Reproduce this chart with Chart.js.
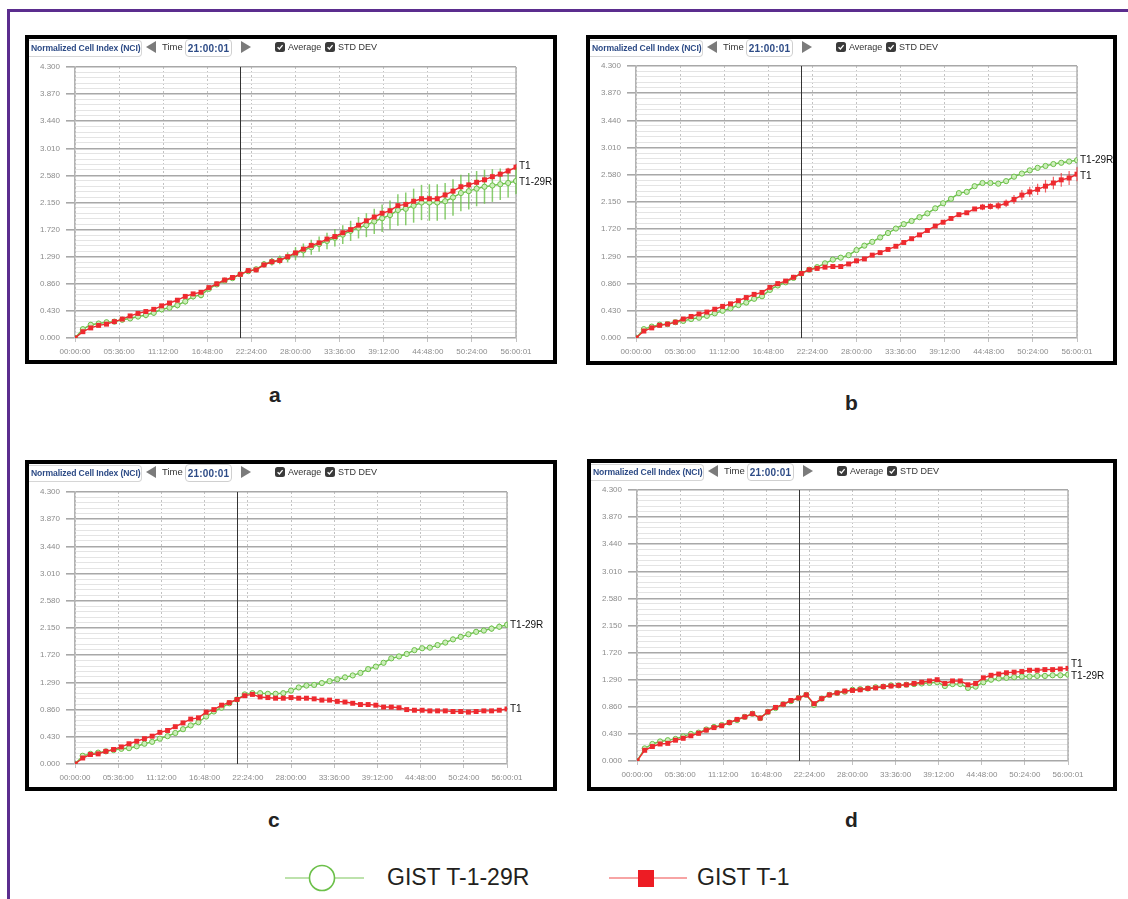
<!DOCTYPE html>
<html lang="en">
<head>
<meta charset="UTF-8">
<title>NCI - GIST T-1 vs GIST T-1-29R</title>
<script src="https://cdn.jsdelivr.net/npm/chart.js"></script>
<style>
    body {
        margin: 0;
        width: 1128px;
        height: 899px;
        position: relative;
        overflow: hidden;
        background: #fff;
        font-family: Arial, "Liberation Sans", sans-serif;
    }
    .frame-top { position: absolute; left: 7px; top: 9px; right: 0; height: 3px; background: #5b2d8e; }
    .frame-left { position: absolute; left: 7px; top: 9px; width: 3px; bottom: 0; background: #5b2d8e; }
    .panel { position: absolute; border: 4px solid #000; background: #fff; box-sizing: border-box; }
    .panel canvas { position: absolute; left: 0; top: 0; }
    .hdr > div { position: absolute; white-space: nowrap; }
    .nci {
        left: 0; top: 1px; width: 110px; height: 15px;
        border: 1px solid #d6d6d6; border-left: none; border-radius: 0 4px 4px 0;
        font-size: 8.6px; font-weight: bold; color: #2d4b86; line-height: 15px;
        padding-left: 2px; letter-spacing: -0.1px; background: #fff;
    }
    .tri-l { left: 117px; top: 2px; width: 0; height: 0;
        border-right: 10px solid #7b7b7b; border-top: 6px solid transparent; border-bottom: 6px solid transparent; }
    .tri-r { left: 212px; top: 2px; width: 0; height: 0;
        border-left: 10px solid #7b7b7b; border-top: 6px solid transparent; border-bottom: 6px solid transparent; }
    .time { left: 133px; top: 2px; font-size: 9.5px; color: #333; }
    .tbox { left: 156px; top: 0; width: 45px; height: 16px; border: 1px solid #d0d0d0; border-radius: 4px;
        font-size: 10px; font-weight: bold; color: #2d4b86; text-align: center; line-height: 17px; letter-spacing: 0.2px; }
    .cb { top: 3px; width: 10px; height: 10px; }
    .cb svg { display: block; }
    .lbl { top: 2px; font-size: 9px; color: #333; line-height: 12px; }
    .letter { position: absolute; font-size: 21px; font-weight: bold; color: #222; }
    .legend-text { position: absolute; font-size: 23px; color: #231f20; }
</style>
</head>
<body>
<div class="frame-top"></div>
<div class="frame-left"></div>

<div class="letter" style="left:269px;top:383px">a</div>
<div class="letter" style="left:845px;top:391px">b</div>
<div class="letter" style="left:268px;top:808px">c</div>
<div class="letter" style="left:845px;top:808px">d</div>

<svg style="position:absolute;left:0;top:850px" width="1128" height="49">
    <line x1="285" y1="28" x2="364" y2="28" stroke="#7cc65a" stroke-width="1.2"/>
    <circle cx="322" cy="28" r="12.5" fill="#fff" stroke="#6cc04a" stroke-width="1.6"/>
    <line x1="609" y1="28" x2="687" y2="28" stroke="#ef4a4a" stroke-width="1.2"/>
    <rect x="638" y="20" width="16" height="17" fill="#ed1c24"/>
</svg>
<div class="legend-text" style="left:387px;top:864px">GIST T-1-29R</div>
<div class="legend-text" style="left:697px;top:864px">GIST T-1</div>

<script>
// time axis: one reading per hour, 0 h .. 56 h
const hours = [0,1,2,3,4,5,6,7,8,9,10,11,12,13,14,15,16,17,18,19,20,21,22,23,24,25,26,27,28,
    29,30,31,32,33,34,35,36,37,38,39,40,41,42,43,44,45,46,47,48,49,50,51,52,53,54,55,56];
const xTickValues = [0, 5.6, 11.2, 16.8, 22.4, 28, 33.6, 39.2, 44.8, 50.4, 56];
const xTickLabels = ['00:00:00','05:36:00','11:12:00','16:48:00','22:24:00','28:00:00',
    '33:36:00','39:12:00','44:48:00','50:24:00','56:00:01'];
const yTickValues = [0, 0.43, 0.86, 1.29, 1.72, 2.15, 2.58, 3.01, 3.44, 3.87, 4.3];
const yTickLabels = ['0.000','0.430','0.860','1.290','1.720','2.150','2.580','3.010','3.440','3.870','4.300'];
const markerHour = 21;
const seriesNames = ['T1', 'T1-29R'];

// panel a
const t1A = [0,0.10,0.16,0.20,0.22,0.26,0.30,0.35,0.39,0.42,0.455,0.51,0.555,0.60,0.66,0.70,0.725,0.80,0.86,0.92,
    0.96,1.01,1.07,1.08,1.16,1.21,1.23,1.29,1.35,1.41,1.47,1.51,1.57,1.61,1.67,1.72,1.79,1.86,1.92,1.98,
    2.02,2.10,2.12,2.17,2.21,2.21,2.21,2.27,2.33,2.40,2.43,2.47,2.51,2.56,2.60,2.65,2.71];
const r29A = [0,0.14,0.21,0.23,0.25,0.26,0.29,0.31,0.34,0.365,0.40,0.455,0.48,0.52,0.58,0.66,0.68,0.78,0.85,0.91,
    0.95,1.01,1.06,1.09,1.17,1.21,1.24,1.28,1.34,1.39,1.44,1.49,1.54,1.59,1.64,1.70,1.75,1.79,1.85,1.90,
    1.95,2.03,2.05,2.10,2.15,2.15,2.15,2.17,2.23,2.30,2.33,2.37,2.40,2.42,2.44,2.46,2.49];
const t1SdA = [0,0.01,0.01,0.01,0.01,0.01,0.01,0.01,0.01,0.01,0.01,0.01,0.01,0.01,0.01,0.01,0.01,0.01,0.01,0.01,
    0.01,0.01,0.01,0.01,0.01,0.01,0.01,0.01,0.02,0.02,0.03,0.03,0.03,0.03,0.03,0.03,0.03,0.03,0.03,0.03,
    0.04,0.04,0.04,0.04,0.04,0.05,0.05,0.05,0.05,0.05,0.05,0.05,0.05,0.05,0.05,0.05,0.05];
const r29SdA = [0,0.04,0.04,0.04,0.04,0.04,0.04,0.04,0.04,0.05,0.05,0.05,0.05,0.05,0.05,0.05,0.05,0.04,0.04,0.03,
    0.03,0.03,0.03,0.04,0.05,0.06,0.07,0.08,0.10,0.11,0.12,0.12,0.13,0.14,0.15,0.16,0.17,0.19,0.20,0.22,
    0.23,0.25,0.26,0.27,0.28,0.29,0.29,0.29,0.29,0.29,0.29,0.28,0.27,0.26,0.25,0.23,0.21];

// panel b
const t1B = [0,0.11,0.16,0.20,0.22,0.25,0.30,0.34,0.38,0.41,0.455,0.50,0.54,0.59,0.64,0.69,0.72,0.80,0.86,0.90,
    0.96,1.02,1.08,1.10,1.12,1.13,1.13,1.17,1.22,1.25,1.31,1.35,1.40,1.45,1.51,1.57,1.63,1.70,1.77,1.83,
    1.89,1.95,1.98,2.04,2.07,2.08,2.09,2.13,2.19,2.26,2.31,2.35,2.40,2.45,2.50,2.53,2.59];
const r29B = [0,0.14,0.18,0.21,0.22,0.25,0.27,0.30,0.32,0.35,0.39,0.43,0.47,0.52,0.56,0.62,0.66,0.76,0.83,0.88,
    0.95,1.02,1.08,1.12,1.18,1.24,1.27,1.31,1.39,1.46,1.52,1.59,1.66,1.73,1.80,1.85,1.91,1.97,2.05,2.13,
    2.20,2.29,2.31,2.40,2.45,2.45,2.44,2.48,2.55,2.60,2.65,2.69,2.72,2.75,2.77,2.79,2.81];
const t1SdB = [0,0.01,0.01,0.01,0.01,0.01,0.01,0.01,0.01,0.01,0.01,0.01,0.01,0.01,0.01,0.01,0.01,0.01,0.01,0.01,
    0.01,0.01,0.01,0.01,0.01,0.01,0.01,0.01,0.01,0.01,0.01,0.01,0.01,0.01,0.01,0.01,0.01,0.02,0.02,0.02,
    0.02,0.03,0.03,0.03,0.05,0.05,0.06,0.06,0.07,0.08,0.08,0.09,0.10,0.10,0.11,0.11,0.11];
const r29SdB = [0,0.01,0.01,0.01,0.01,0.01,0.01,0.01,0.01,0.01,0.01,0.01,0.01,0.01,0.01,0.01,0.01,0.01,0.01,0.01,
    0.01,0.01,0.01,0.01,0.01,0.01,0.01,0.01,0.01,0.01,0.02,0.02,0.02,0.02,0.02,0.02,0.02,0.02,0.02,0.02,
    0.02,0.02,0.02,0.02,0.02,0.02,0.02,0.02,0.02,0.02,0.02,0.02,0.02,0.02,0.02,0.02,0.02];

// panel c
const t1C = [0,0.095,0.15,0.16,0.20,0.23,0.27,0.32,0.36,0.40,0.44,0.50,0.53,0.59,0.65,0.71,0.73,0.82,0.86,0.93,
    0.97,1.02,1.08,1.10,1.06,1.05,1.04,1.04,1.05,1.04,1.04,1.03,1.01,1.01,0.99,0.98,0.96,0.94,0.94,0.93,
    0.90,0.90,0.89,0.86,0.85,0.85,0.84,0.84,0.84,0.83,0.83,0.82,0.83,0.84,0.84,0.85,0.87];
const r29C = [0,0.13,0.16,0.18,0.20,0.22,0.24,0.25,0.28,0.32,0.35,0.40,0.44,0.49,0.55,0.61,0.66,0.75,0.83,0.89,
    0.96,1.02,1.10,1.12,1.12,1.11,1.11,1.12,1.16,1.21,1.24,1.25,1.28,1.31,1.34,1.37,1.40,1.44,1.50,1.54,
    1.60,1.67,1.70,1.74,1.80,1.83,1.84,1.88,1.92,1.97,2.01,2.05,2.09,2.11,2.14,2.17,2.20];
const t1SdC = [0,0.01,0.01,0.01,0.01,0.01,0.01,0.01,0.01,0.01,0.01,0.01,0.01,0.01,0.01,0.01,0.01,0.01,0.01,0.01,
    0.01,0.01,0.01,0.01,0.01,0.01,0.01,0.01,0.01,0.01,0.01,0.01,0.01,0.01,0.01,0.01,0.01,0.01,0.01,0.01,
    0.01,0.01,0.01,0.01,0.01,0.01,0.01,0.01,0.01,0.01,0.01,0.01,0.01,0.01,0.01,0.01,0.01];
const r29SdC = [0,0.02,0.02,0.02,0.02,0.02,0.02,0.02,0.02,0.02,0.02,0.02,0.02,0.02,0.02,0.02,0.02,0.02,0.02,0.02,
    0.02,0.02,0.02,0.02,0.02,0.02,0.02,0.02,0.02,0.02,0.02,0.02,0.02,0.02,0.02,0.02,0.03,0.03,0.03,0.03,
    0.03,0.03,0.03,0.03,0.03,0.03,0.04,0.04,0.04,0.04,0.04,0.04,0.04,0.04,0.05,0.05,0.05];

// panel d
const t1D = [0,0.17,0.23,0.27,0.28,0.33,0.36,0.40,0.44,0.49,0.53,0.56,0.61,0.66,0.70,0.75,0.68,0.78,0.85,0.90,
    0.96,1.00,1.05,0.91,0.99,1.05,1.08,1.11,1.12,1.13,1.15,1.16,1.18,1.19,1.20,1.21,1.23,1.25,1.27,1.29,
    1.23,1.27,1.27,1.21,1.23,1.32,1.36,1.38,1.40,1.41,1.42,1.44,1.44,1.45,1.45,1.46,1.47];
const r29D = [0,0.20,0.27,0.31,0.33,0.35,0.39,0.43,0.45,0.50,0.54,0.57,0.61,0.65,0.70,0.75,0.68,0.78,0.84,0.90,
    0.95,1.00,1.05,0.89,0.99,1.05,1.08,1.10,1.13,1.14,1.15,1.17,1.18,1.20,1.20,1.21,1.22,1.23,1.24,1.25,
    1.19,1.22,1.22,1.16,1.18,1.25,1.29,1.31,1.32,1.33,1.34,1.34,1.35,1.35,1.36,1.36,1.37];
const t1SdD = [0,0.01,0.01,0.01,0.01,0.01,0.01,0.01,0.01,0.01,0.01,0.01,0.01,0.01,0.01,0.01,0.01,0.01,0.01,0.01,
    0.01,0.01,0.01,0.01,0.01,0.01,0.01,0.01,0.01,0.01,0.01,0.01,0.01,0.01,0.01,0.01,0.01,0.01,0.01,0.01,
    0.01,0.01,0.01,0.01,0.01,0.01,0.01,0.01,0.01,0.01,0.01,0.01,0.01,0.01,0.01,0.01,0.01];
const r29SdD = [0,0.02,0.02,0.02,0.02,0.02,0.02,0.02,0.02,0.02,0.02,0.02,0.02,0.02,0.02,0.02,0.02,0.02,0.02,0.02,
    0.02,0.02,0.02,0.02,0.02,0.02,0.02,0.02,0.02,0.02,0.02,0.02,0.02,0.02,0.02,0.02,0.03,0.03,0.03,0.04,
    0.04,0.04,0.04,0.04,0.04,0.04,0.04,0.04,0.04,0.04,0.04,0.04,0.04,0.04,0.04,0.04,0.04];

const RED = '#ee2a2f', GREEN = '#6cc04a';

// layout of the four screenshots on the page (box = outer black frame)
const panels = [
    {box: [25, 35, 532, 329], pad: {top: 28, right: 37}, xh: 22, t1: t1A, r29: r29A, t1Sd: t1SdA, r29Sd: r29SdA, dy: [-1, 1]},
    {box: [586, 35, 531, 330], pad: {top: 27, right: 36}, xh: 23, t1: t1B, r29: r29B, t1Sd: t1SdB, r29Sd: r29SdB, dy: [2, 0]},
    {box: [25, 460, 532, 331], pad: {top: 28, right: 46}, xh: 23, t1: t1C, r29: r29C, t1Sd: t1SdC, r29Sd: r29SdC, dy: [0, 0]},
    {box: [587, 459, 530, 332], pad: {top: 27, right: 45}, xh: 26, t1: t1D, r29: r29D, t1Sd: t1SdD, r29Sd: r29SdD, dy: [-4, 2]}
];

const checkSvg = '<svg width="10" height="10"><rect x="0" y="0" width="10" height="10" rx="2.5" fill="#3a3a3a"/>' +
    '<path d="M2.6 5.2 L4.4 7 L7.6 3.2" stroke="#fff" stroke-width="1.3" fill="none"/></svg>';

const overlay = {
    id: 'overlay',
    beforeDatasetsDraw(chart) {
        const {ctx, chartArea: a, scales: {x, y}} = chart;
        ctx.save();
        // right edge of plot
        ctx.strokeStyle = '#b3b3b3';
        ctx.lineWidth = 1.5;
        ctx.beginPath();
        ctx.moveTo(x.getPixelForValue(56), a.top);
        ctx.lineTo(x.getPixelForValue(56), a.bottom);
        ctx.stroke();
        // time marker
        const mx = Math.round(x.getPixelForValue(markerHour)) + 0.5;
        ctx.strokeStyle = '#333';
        ctx.lineWidth = 1;
        ctx.beginPath();
        ctx.moveTo(mx, a.top);
        ctx.lineTo(mx, a.bottom);
        ctx.stroke();
        // std dev bars
        chart.data.datasets.forEach((ds, i) => {
            const meta = chart.getDatasetMeta(i);
            ctx.strokeStyle = ds.sdColor;
            ctx.lineWidth = ds.sdWidth;
            meta.data.forEach((pt, j) => {
                const v = ds.data[j].y, s = ds.sd[j];
                if (!s) return;
                ctx.beginPath();
                ctx.moveTo(pt.x, y.getPixelForValue(v - s));
                ctx.lineTo(pt.x, y.getPixelForValue(v + s));
                ctx.stroke();
            });
        });
        ctx.restore();
    },
    afterDatasetsDraw(chart) {
        const {ctx} = chart;
        ctx.save();
        ctx.font = '10px Arial';
        ctx.fillStyle = '#111';
        ctx.textBaseline = 'middle';
        chart.data.datasets.forEach((ds, i) => {
            const meta = chart.getDatasetMeta(i);
            const last = meta.data[meta.data.length - 1];
            ctx.fillText(ds.label, last.x + 3, last.y + ds.labelDy);
        });
        ctx.restore();
    }
};

panels.forEach((p, k) => {
    const [bx, by, bw, bh] = p.box;
    const div = document.createElement('div');
    div.className = 'panel';
    div.style.left = bx + 'px';
    div.style.top = by + 'px';
    div.style.width = bw + 'px';
    div.style.height = bh + 'px';
    const cw = bw - 8, ch = bh - 8;
    div.innerHTML = '<canvas width="' + cw + '" height="' + ch + '"></canvas>' +
        '<div class="hdr">' +
        '<div class="nci">Normalized Cell Index (NCI)</div>' +
        '<div class="tri-l"></div><div class="time">Time</div>' +
        '<div class="tbox">21:00:01</div><div class="tri-r"></div>' +
        '<div class="cb" style="left:246px">' + checkSvg + '</div><div class="lbl" style="left:259px">Average</div>' +
        '<div class="cb" style="left:296px">' + checkSvg + '</div><div class="lbl" style="left:309px">STD DEV</div>' +
        '</div>';
    document.body.appendChild(div);

    new Chart(div.querySelector('canvas'), {
        type: 'line',
        data: {
            datasets: [
                {
                    label: seriesNames[0],
                    data: hours.map((h, i) => ({x: h, y: p.t1[i]})),
                    sd: p.t1Sd, sdColor: 'rgba(238,42,47,0.75)', sdWidth: 1.2, labelDy: p.dy[0],
                    borderColor: RED, borderWidth: 1.4, backgroundColor: RED,
                    pointStyle: 'rect', pointRadius: 3.5, pointBorderWidth: 0,
                    pointBackgroundColor: RED, tension: 0
                },
                {
                    label: seriesNames[1],
                    data: hours.map((h, i) => ({x: h, y: p.r29[i]})),
                    sd: p.r29Sd, sdColor: 'rgba(108,192,74,0.8)', sdWidth: 1.5, labelDy: p.dy[1],
                    borderColor: GREEN, borderWidth: 1.4, backgroundColor: GREEN,
                    pointStyle: 'circle', pointRadius: 2.6, pointBorderWidth: 1,
                    pointBorderColor: GREEN, pointBackgroundColor: '#cdeebb', tension: 0
                }
            ]
        },
        options: {
            responsive: false,
            animation: false,
            layout: {padding: {top: p.pad.top, right: p.pad.right, left: 0, bottom: 0}},
            plugins: {legend: {display: false}, tooltip: {enabled: false}},
            scales: {
                x: {
                    type: 'linear', min: 0, max: 56,
                    afterBuildTicks: s => { s.ticks = xTickValues.map(v => ({value: v})); },
                    afterFit: s => { s.height = p.xh; },
                    ticks: {
                        autoSkip: false, maxRotation: 0, padding: 5,
                        color: '#8c8c8c', font: {size: 8, family: 'Arial'},
                        callback: (v, i) => xTickLabels[i]
                    },
                    grid: {color: '#c2c2c2', lineWidth: 1, tickLength: 4, tickColor: '#c2c2c2'},
                    border: {display: false, dash: [2, 2]}
                },
                y: {
                    min: 0, max: 4.3,
                    afterBuildTicks: s => {
                        const t = [];
                        yTickValues.forEach((v, i) => {
                            t.push({value: v});
                            if (i < yTickValues.length - 1) {
                                const step = (yTickValues[i + 1] - v) / 5;
                                for (let m = 1; m < 5; m++) t.push({value: v + step * m});
                            }
                        });
                        s.ticks = t;
                    },
                    afterFit: s => { s.width = 46; },
                    ticks: {
                        autoSkip: false, padding: 6,
                        color: '#8c8c8c', font: {size: 8, family: 'Arial'},
                        callback: (v, i) => (i % 5 === 0 ? yTickLabels[i / 5] : '')
                    },
                    grid: {
                        color: c => (c.index % 5 === 0 ? '#a8a8a8' : '#e4e4e4'),
                        lineWidth: c => (c.index % 5 === 0 ? 1.6 : 1),
                        tickLength: 9,
                        tickColor: c => (c.index % 5 === 0 ? '#a8a8a8' : 'rgba(0,0,0,0)')
                    },
                    border: {color: '#b3b3b3', width: 1.5}
                }
            }
        },
        plugins: [overlay]
    });
});
</script>
</body>
</html>
